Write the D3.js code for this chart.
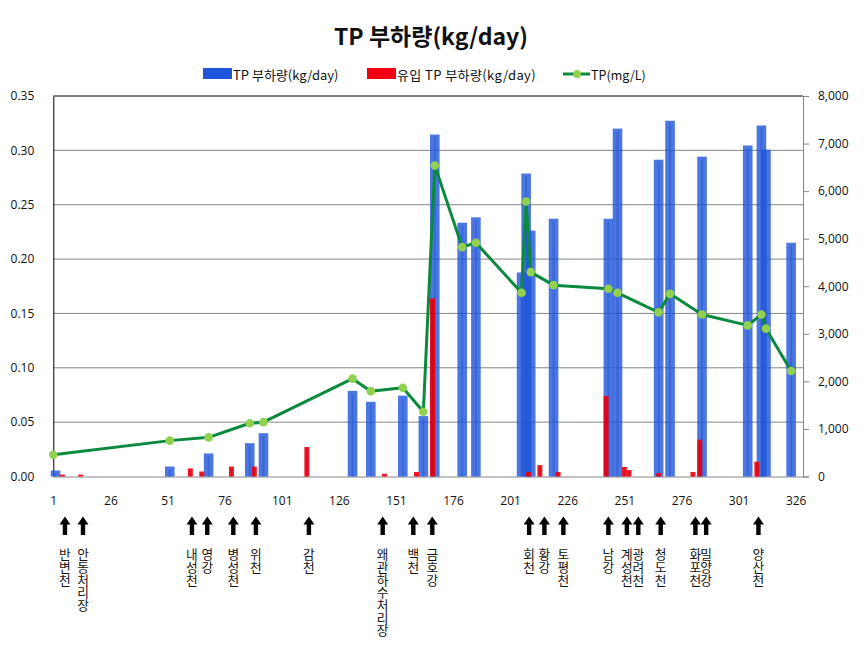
<!DOCTYPE html>
<html>
<head>
<meta charset="utf-8">
<script src="https://cdn.jsdelivr.net/npm/d3@7"></script>
<style>
  html, body { margin: 0; padding: 0; background: #fff; }
  svg { display: block; }
  text { font-family: "Noto Sans CJK KR", "Noto Sans", sans-serif; fill: #111; }
  text.lab { writing-mode: vertical-rl; text-orientation: upright; }
</style>
</head>
<body>
<svg id="chart" width="864" height="647"></svg>
<script>
// ---- data ----
const loadX = [2,52,69,87,93,132,140,154,163,168,180,186,206,208,210,220,244,248,266,271,285,305,311,313,324];
const loadV = [126,210,485,700,910,1800,1570,1700,1270,7190,5335,5450,4290,6370,5170,5420,5420,7315,6660,7480,6725,6960,7380,6870,4915];

const inflowX = [5,13,61,66,79,89,112,146,160,167,209,214,222,243,251,253,266,281,284,309];
const inflowV = [40,40,170,105,210,210,620,55,95,3745,95,240,95,1695,200,137,74,95,775,312];

const tpX = [1,52,69,87,93,132,140,154,163,168,180,186,206,208,210,220,244,248,266,271,285,305,311,313,324];
const tpV = [0.020,0.033,0.036,0.049,0.050,0.090,0.0785,0.0816,0.0595,0.286,0.211,0.215,0.169,0.253,0.188,0.176,0.1727,0.169,0.151,0.168,0.149,0.139,0.149,0.136,0.097];

const xTicks = [1,26,51,76,101,126,151,176,201,226,251,276,301,326];
const leftTicks = [0,0.05,0.10,0.15,0.20,0.25,0.30,0.35];
const rightTicks = [0,1000,2000,3000,4000,5000,6000,7000,8000];

const tribNames = ["반변천","안동처리장","내성천","영강","병성천","위천","감천","왜관하수처리장","백천","금호강","회천","황강","토평천","남강","계성천","광려천","청도천","화포천","밀양강","양산천"];
const tribX = [6.1,14.0,61.7,68.4,79.8,89.7,112.9,145.2,158.6,166.9,209.3,216.0,224.3,244.0,252.1,257.1,266.9,282.1,286.8,309.7];

const titleText = "TP 부하량(kg/day)";
const legendLabels = ["TP 부하량(kg/day)", "유입 TP 부하량(kg/day)", "TP(mg/L)"];

// ---- layout ----
const L = 53.3, R = 803, T = 96, B = 476.5;
const svg = d3.select("#chart");
const x = d3.scaleLinear().domain([1, 329.2]).range([L, R]);
const yL = d3.scaleLinear().domain([0, 0.35]).range([B, T]);
const yR = d3.scaleLinear().domain([0, 8000]).range([B, T]);

const blue = "#1f55d9", red = "#f00010", green = "#0b8a3e", dot = "#92d050";

// title
svg.append("text").attr("x", 431).attr("y", 45).attr("text-anchor", "middle")
  .style("font-size", "23px").style("font-weight", "bold").text(titleText);

// legend
const lg = svg.append("g");
lg.append("rect").attr("x", 203).attr("y", 68).attr("width", 29).attr("height", 11).attr("fill", blue);
lg.append("text").attr("x", 233).attr("y", 79.5).style("font-size", "13px").text(legendLabels[0]);
lg.append("rect").attr("x", 367).attr("y", 68).attr("width", 29).attr("height", 11).attr("fill", red);
lg.append("text").attr("x", 397).attr("y", 79.5).style("font-size", "13px").style("letter-spacing", "0.4px").text(legendLabels[1]);
lg.append("line").attr("x1", 563).attr("x2", 590).attr("y1", 74).attr("y2", 74).attr("stroke", green).attr("stroke-width", 3);
lg.append("circle").attr("cx", 577).attr("cy", 74).attr("r", 4).attr("fill", dot);
lg.append("text").attr("x", 591).attr("y", 79.5).style("font-size", "12.5px").text(legendLabels[2]);

// gridlines
svg.append("g").selectAll("line").data(leftTicks.filter(d => d > 0 && d < 0.35)).join("line")
  .attr("x1", L).attr("x2", R).attr("y1", d => yL(d)).attr("y2", d => yL(d))
  .attr("stroke", "#868686").attr("stroke-width", 1);

// left axis
const axL = svg.append("g").attr("transform", `translate(${L},0)`)
  .call(d3.axisLeft(yL).tickValues(leftTicks).tickFormat(d3.format(".2f")).tickSize(0).tickPadding(19));
axL.select(".domain").attr("stroke", "#000");
axL.selectAll("text").style("font-size", "12px").style("font-family", "'Open Sans', 'Noto Sans', sans-serif").attr("fill", "#111");

// right axis
const axR = svg.append("g").attr("transform", `translate(${R},0)`)
  .call(d3.axisRight(yR).tickValues(rightTicks).tickFormat(d3.format(",")).tickSize(6).tickPadding(9));
axR.select(".domain").attr("stroke", "#868686");
axR.selectAll(".tick line").attr("stroke", "#868686");
axR.selectAll("text").style("font-size", "12px").style("font-family", "'Open Sans', 'Noto Sans', sans-serif").attr("fill", "#111");

// top border
svg.append("line").attr("x1", L).attr("x2", R).attr("y1", T).attr("y2", T).attr("stroke", "#000");

// bottom axis
const axB = svg.append("g").attr("transform", `translate(0,${B})`)
  .call(d3.axisBottom(x).tickValues(xTicks).tickFormat(d3.format("d")).tickSize(0).tickPadding(20));
axB.select(".domain").attr("stroke", "#868686");
axB.selectAll("text").style("font-size", "12px").style("font-family", "'Open Sans', 'Noto Sans', sans-serif").attr("fill", "#111");

// blue bars
const bw = 9.6;
const loads = loadX.map((d, i) => ({x: d, v: loadV[i]}));
const bg = svg.append("g");
bg.selectAll("rect.b").data(loads).join("rect").attr("class", "b")
  .attr("x", d => x(d.x) - bw / 2).attr("width", bw)
  .attr("y", d => yR(d.v)).attr("height", d => B - yR(d.v))
  .attr("fill", blue).attr("fill-opacity", 0.8);
bg.selectAll("rect.s").data(loads).join("rect").attr("class", "s")
  .attr("x", d => x(d.x) - 1).attr("width", 2)
  .attr("y", d => yR(d.v) + 3).attr("height", d => Math.max(0, B - yR(d.v) - 3))
  .attr("fill", blue).attr("fill-opacity", 0.45);

// red bars
const rw = 5;
const inflows = inflowX.map((d, i) => ({x: d, v: inflowV[i]}));
const rg = svg.append("g");
rg.selectAll("rect.r").data(inflows).join("rect").attr("class", "r")
  .attr("x", d => x(d.x) - rw / 2).attr("width", rw)
  .attr("y", d => yR(d.v)).attr("height", d => B - yR(d.v))
  .attr("fill", red).attr("fill-opacity", 0.9);
rg.selectAll("rect.rs").data(inflows).join("rect").attr("class", "rs")
  .attr("x", d => x(d.x) - 0.75).attr("width", 1.5)
  .attr("y", d => yR(d.v) + 2).attr("height", d => Math.max(0, B - yR(d.v) - 2))
  .attr("fill", "#c00010").attr("fill-opacity", 0.5);

// TP line
const pts = tpX.map((d, i) => ({x: d, v: tpV[i]}));
svg.append("path").datum(pts)
  .attr("d", d3.line().x(d => x(d.x)).y(d => yL(d.v)))
  .attr("fill", "none").attr("stroke", green).attr("stroke-width", 3).attr("stroke-linejoin", "round");
svg.append("g").selectAll("circle").data(pts).join("circle")
  .attr("cx", d => x(d.x)).attr("cy", d => yL(d.v)).attr("r", 4.3).attr("fill", dot);

// arrows + vertical labels
const trib = tribNames.map((n, i) => ({n, x: tribX[i]}));
const ag = svg.append("g");
ag.selectAll("path").data(trib).join("path")
  .attr("d", d => {
    const cx = x(d.x), top = 516.5;
    return `M${cx},${top} L${cx + 5.5},${top + 8} L${cx + 2.2},${top + 8} L${cx + 2.2},${top + 18.5} L${cx - 2.2},${top + 18.5} L${cx - 2.2},${top + 8} L${cx - 5.5},${top + 8} Z`;
  })
  .attr("fill", "#000");
ag.selectAll("text.lab").data(trib).join("text").attr("class", "lab")
  .attr("x", d => x(d.x)).attr("y", 548)
  .style("font-size", "12.7px")
  .text(d => d.n);
</script>
</body>
</html>
